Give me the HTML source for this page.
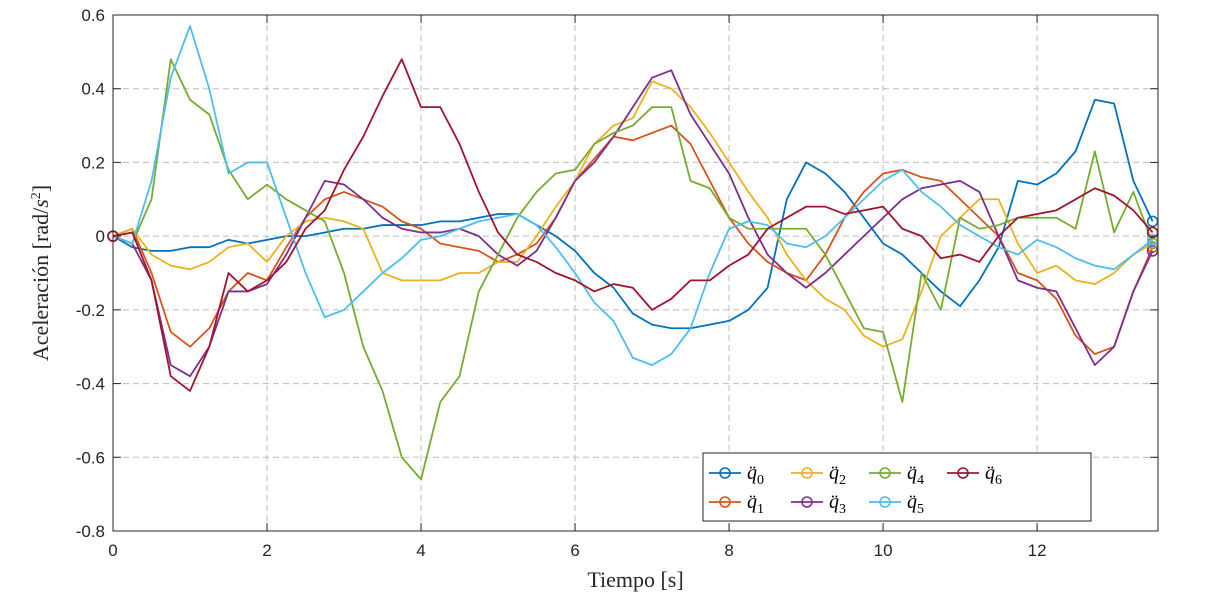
<!DOCTYPE html>
<html><head><meta charset="utf-8"><style>
body{margin:0;background:#fff}
svg{display:block}
.tick{font-family:"Liberation Sans",sans-serif;font-size:17px;fill:#262626}
.lab{font-family:"Liberation Serif",serif;font-size:22px;fill:#262626}
.leg{font-family:"Liberation Serif",serif;font-size:20px;font-style:italic;fill:#000}
</style></head><body>
<svg id="chart" width="1215" height="615" xmlns="http://www.w3.org/2000/svg"></svg>
<script>
const times=[0,0.25,0.5,0.75,1,1.25,1.5,1.75,2,2.25,2.5,2.75,3,3.25,3.5,3.75,4,4.25,4.5,4.75,5,5.25,5.5,5.75,6,6.25,6.5,6.75,7,7.25,7.5,7.75,8,8.25,8.5,8.75,9,9.25,9.5,9.75,10,10.25,10.5,10.75,11,11.25,11.5,11.75,12,12.25,12.5,12.75,13,13.25,13.5];
const q0=[0,-0.03,-0.04,-0.04,-0.03,-0.03,-0.01,-0.02,-0.01,0,0,0.01,0.02,0.02,0.03,0.03,0.03,0.04,0.04,0.05,0.06,0.06,0.03,0,-0.04,-0.1,-0.14,-0.21,-0.24,-0.25,-0.25,-0.24,-0.23,-0.2,-0.14,0.1,0.2,0.17,0.12,0.05,-0.02,-0.05,-0.1,-0.15,-0.19,-0.12,-0.03,0.15,0.14,0.17,0.23,0.37,0.36,0.15,0.04];
const q1=[0,0.02,-0.1,-0.26,-0.3,-0.25,-0.15,-0.1,-0.12,-0.03,0.05,0.1,0.12,0.1,0.08,0.04,0.02,-0.02,-0.03,-0.04,-0.07,-0.05,-0.02,0.05,0.15,0.21,0.27,0.26,0.28,0.3,0.25,0.15,0.05,-0.02,-0.07,-0.1,-0.12,-0.05,0.05,0.12,0.17,0.18,0.16,0.15,0.1,0.05,0,-0.1,-0.12,-0.17,-0.27,-0.32,-0.3,-0.15,-0.03];
const q2=[0,0.02,-0.05,-0.08,-0.09,-0.07,-0.03,-0.02,-0.07,0,0.04,0.05,0.04,0.02,-0.1,-0.12,-0.12,-0.12,-0.1,-0.1,-0.07,-0.07,0,0.08,0.15,0.25,0.3,0.32,0.42,0.4,0.35,0.28,0.2,0.12,0.05,-0.05,-0.12,-0.17,-0.2,-0.27,-0.3,-0.28,-0.15,0,0.05,0.1,0.1,-0.02,-0.1,-0.08,-0.12,-0.13,-0.1,-0.05,-0.02];
const q3=[0,-0.02,-0.12,-0.35,-0.38,-0.3,-0.15,-0.15,-0.13,-0.05,0.05,0.15,0.14,0.1,0.05,0.02,0.01,0.01,0.02,0,-0.05,-0.08,-0.04,0.05,0.15,0.2,0.27,0.35,0.43,0.45,0.33,0.25,0.17,0.05,-0.05,-0.1,-0.14,-0.1,-0.05,0,0.05,0.1,0.13,0.14,0.15,0.12,0,-0.12,-0.14,-0.15,-0.25,-0.35,-0.3,-0.15,-0.04];
const q4=[0,-0.02,0.1,0.48,0.37,0.33,0.18,0.1,0.14,0.1,0.07,0.04,-0.1,-0.3,-0.42,-0.6,-0.66,-0.45,-0.38,-0.15,-0.05,0.05,0.12,0.17,0.18,0.25,0.28,0.3,0.35,0.35,0.15,0.13,0.05,0.02,0.02,0.02,0.02,-0.05,-0.15,-0.25,-0.26,-0.45,-0.1,-0.2,0.05,0.02,0.03,0.05,0.05,0.05,0.02,0.23,0.01,0.12,-0.02];
const q5=[0,-0.02,0.15,0.43,0.57,0.4,0.17,0.2,0.2,0.05,-0.1,-0.22,-0.2,-0.15,-0.1,-0.06,-0.01,0,0.02,0.04,0.05,0.06,0.03,-0.03,-0.1,-0.18,-0.23,-0.33,-0.35,-0.32,-0.25,-0.1,0.02,0.04,0.03,-0.02,-0.03,0,0.05,0.1,0.15,0.18,0.12,0.08,0.03,0,-0.03,-0.05,-0.01,-0.03,-0.06,-0.08,-0.09,-0.05,-0.01];
const q6=[0,0.01,-0.12,-0.38,-0.42,-0.3,-0.1,-0.15,-0.12,-0.07,0.02,0.07,0.18,0.27,0.38,0.48,0.35,0.35,0.25,0.12,0.01,-0.05,-0.07,-0.1,-0.12,-0.15,-0.13,-0.14,-0.2,-0.17,-0.12,-0.12,-0.08,-0.05,0.02,0.05,0.08,0.08,0.06,0.07,0.08,0.02,0,-0.06,-0.05,-0.07,0,0.05,0.06,0.07,0.1,0.13,0.11,0.07,0.01];
const xTicks=[0,2,4,6,8,10,12];
const yTicks=[-0.8,-0.6,-0.4,-0.2,0,0.2,0.4,0.6];
const seriesNames=["q0","q1","q2","q3","q4","q5","q6"];
const seriesData=[q0,q1,q2,q3,q4,q5,q6];
const colors=["#0072BD","#D95319","#EDB120","#7E2F8E","#77AC30","#4DBEEE","#A2142F"];

const L=113,R=1158,T=15,B=531,XMAX=13.57,YMIN=-0.8,YMAX=0.6;
const X=t=>L+t/XMAX*(R-L);
const Y=v=>B-(v-YMIN)/(YMAX-YMIN)*(B-T);
const NS="http://www.w3.org/2000/svg";
const svg=document.getElementById('chart');
function mk(tag,attrs,parent){const e=document.createElementNS(NS,tag);for(const k in attrs)e.setAttribute(k,attrs[k]);(parent||svg).appendChild(e);return e;}

mk('rect',{x:L,y:T,width:R-L,height:B-T,fill:'#fff'});
xTicks.forEach(t=>{
  const g=mk('line',{x1:X(t),x2:X(t),y1:T,y2:B,stroke:'#bdbdbd','stroke-dasharray':'6,4','stroke-width':1});
  
  
  mk('line',{x1:X(t),x2:X(t),y1:B,y2:B-8,stroke:'#262626'});
  mk('line',{x1:X(t),x2:X(t),y1:T,y2:T+8,stroke:'#262626'});
  const tx=mk('text',{x:X(t),y:B+25,'text-anchor':'middle',class:'tick'});tx.textContent=t;
  
  
});
yTicks.forEach(v=>{
  const g=mk('line',{x1:L,x2:R,y1:Y(v),y2:Y(v),stroke:'#bdbdbd','stroke-dasharray':'6,4','stroke-width':1});
  
  
  mk('line',{x1:L,x2:L+8,y1:Y(v),y2:Y(v),stroke:'#262626'});
  mk('line',{x1:R,x2:R-8,y1:Y(v),y2:Y(v),stroke:'#262626'});
  const tx=mk('text',{x:L-8,y:Y(v)+6,'text-anchor':'end',class:'tick'});tx.textContent=v===0?'0':v.toFixed(1);
  
  
});
seriesData.forEach((d,i)=>{
  const p=mk('polyline',{points:d.map((v,j)=>X(times[j])+','+Y(v)).join(' '),fill:'none',stroke:colors[i],'stroke-width':1.8,'stroke-linejoin':'round'});
  
  
  [0,d.length-1].forEach(j=>{
    const c=mk('circle',{cx:X(times[j]),cy:Y(d[j]),r:5,fill:'none',stroke:colors[i],'stroke-width':1.6});
    
    
  });
});
const frame=mk('rect',{x:L,y:T,width:R-L,height:B-T,fill:'none',stroke:'#262626','stroke-width':1});



const xl=mk('text',{x:(L+R)/2,y:587,'text-anchor':'middle',class:'lab'});xl.textContent='Tiempo [s]';


const yl=mk('text',{transform:'translate(48,'+((T+B)/2)+') rotate(-90)','text-anchor':'middle',class:'lab'});
yl.innerHTML='Aceleración [rad/<tspan font-style="italic">s</tspan><tspan dy="-8" font-size="14">2</tspan><tspan dy="8">]</tspan>';



const lg=mk('g',{});


mk('rect',{x:703,y:453,width:388,height:68,fill:'#fff',stroke:'#262626','stroke-width':1},lg);
const pos=[[709,473],[709,502],[791,473],[791,502],[869,473],[869,502],[947,473]];
seriesNames.forEach((n,i)=>{
  const [lx,ly]=pos[i];
  const e=mk('g',{},lg);
  
  
  mk('line',{x1:lx,x2:lx+32,y1:ly,y2:ly,stroke:colors[i],'stroke-width':1.8},e);
  mk('circle',{cx:lx+16,cy:ly,r:5,fill:'none',stroke:colors[i],'stroke-width':1.6},e);
  const t=mk('text',{x:lx+38,y:ly+6,class:'leg'},e);
  t.innerHTML='q\u0308<tspan dy="5" font-size="14" font-style="normal">'+n.slice(1)+'</tspan>';
});
</script>
</body></html>
